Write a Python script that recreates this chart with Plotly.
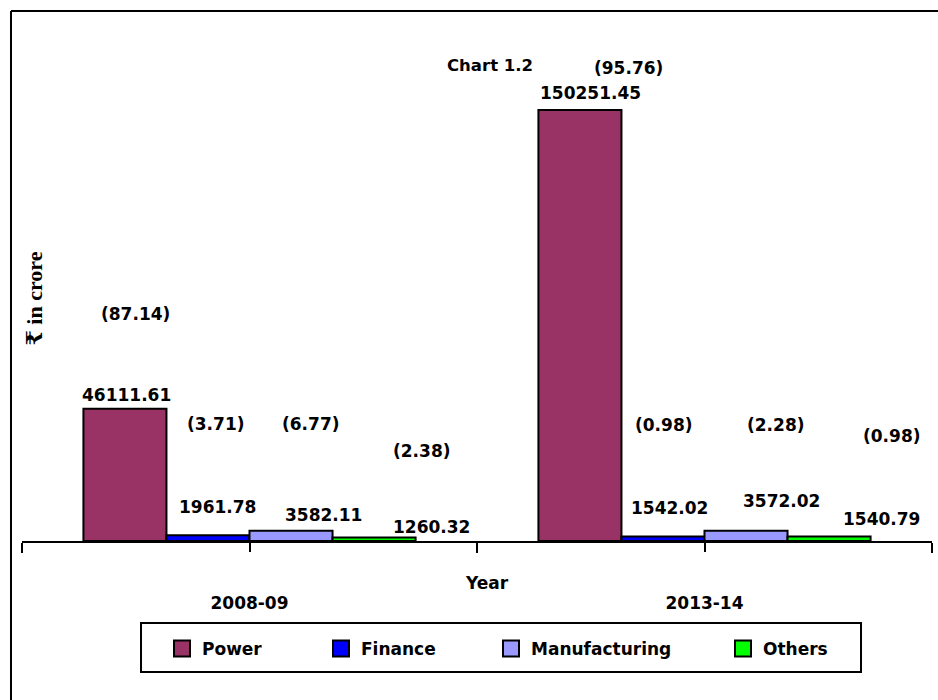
import plotly.graph_objects as go

# ---------------- data ----------------
years = ["2008-09", "2013-14"]
sectors = ["Power", "Finance", "Manufacturing", "Others"]
power = [46111.61, 150251.45]
finance = [1961.78, 1542.02]
manufacturing = [3582.11, 3572.02]
others = [1260.32, 1540.79]
power_pct = [87.14, 95.76]
finance_pct = [3.71, 0.98]
manufacturing_pct = [6.77, 2.28]
others_pct = [2.38, 0.98]

series = [power, finance, manufacturing, others]
shares = [power_pct, finance_pct, manufacturing_pct, others_pct]
colors = ["#993366", "#0000FF", "#9999FF", "#00FF00"]

# ---------------- layout geometry (pixels) ----------------
W, H = 938, 700
L, R, T, B = 22, 6, 82, 159
PW, PH = W - L - R, H - T - B
YMAX = 160000


def px_x(px):
    return (px - L) / PW


def px_y(py):
    return (H - B - py) / PH


FONT = "DejaVu Sans, Liberation Sans, Arial, sans-serif"
FS = 17

# value-label offsets: dx from category centre, dy above bar top (px)
val_dx = [[-123.5, -114.5], [-32.5, -35.5], [73.5, 76.5], [181.5, 176.5]]
val_dy = [[14, 17], [28, 29], [16, 30], [10, 18]]
# share-label centres (px)
pct_pos = [[(135, 314), (628, 68)], [(215, 424), (663, 425)],
           [(310, 424), (775, 425)], [(421, 451), (891, 436)]]
legend_text_start = [202, 361, 531, 763]

fig = go.Figure()
for i, s in enumerate(sectors):
    fig.add_trace(go.Bar(
        x=years, y=series[i], name=s, showlegend=False,
        marker=dict(color=colors[i], line=dict(color="black", width=2)),
    ))

legend_names = ["legend", "legend2", "legend3", "legend4"]
for i, s in enumerate(sectors):
    fig.add_trace(go.Scatter(
        x=[None], y=[None], name=s, mode="markers", xaxis="x2",
        marker=dict(symbol="square", size=16, color=colors[i],
                    line=dict(color="black", width=2)),
        legend=legend_names[i],
    ))

ann = []
for i in range(4):
    for j in range(2):
        ann.append(dict(
            x=years[j], y=series[i][j], xref="x", yref="y",
            xshift=val_dx[i][j], yshift=val_dy[i][j],
            text=f"{series[i][j]:.2f}", showarrow=False,
            xanchor="center", yanchor="middle",
            font=dict(family=FONT, size=FS, color="black", weight="bold"),
        ))
        px, py = pct_pos[i][j]
        ann.append(dict(
            x=px_x(px), y=px_y(py), xref="paper", yref="paper",
            text=f"({shares[i][j]:.2f})", showarrow=False,
            xanchor="center", yanchor="middle",
            font=dict(family=FONT, size=FS, color="black", weight="bold"),
        ))

ann.append(dict(x=px_x(490), y=px_y(65), xref="paper", yref="paper",
                text="Chart 1.2", showarrow=False, xanchor="center", yanchor="middle",
                font=dict(family=FONT, size=FS - 0.5, color="black", weight="bold")))
ann.append(dict(x=px_x(487), y=px_y(583), xref="paper", yref="paper",
                text="Year", showarrow=False, xanchor="center", yanchor="middle",
                font=dict(family=FONT, size=FS, color="black", weight="bold")))
ann.append(dict(x=px_x(33.5), y=px_y(299), xref="paper", yref="paper",
                text="₹ in crore", showarrow=False, textangle=-90,
                xanchor="center", yanchor="middle",
                font=dict(family="Liberation Serif, DejaVu Serif, serif", size=22,
                          color="black", weight="bold")))

shapes = [
    # outer frame (top and left edges visible)
    dict(type="line", xref="paper", yref="paper", x0=px_x(11), x1=px_x(W + 20),
         y0=px_y(11), y1=px_y(11), line=dict(color="black", width=2)),
    dict(type="line", xref="paper", yref="paper", x0=px_x(11), x1=px_x(11),
         y0=px_y(11), y1=px_y(H + 20), line=dict(color="black", width=2)),
    # legend box
    dict(type="rect", xref="paper", yref="paper", x0=px_x(141), x1=px_x(861),
         y0=px_y(623), y1=px_y(672), line=dict(color="black", width=2),
         fillcolor="rgba(0,0,0,0)"),
]

layout = dict(
    width=W, height=H,
    margin=dict(l=L, r=R, t=T, b=B, pad=0),
    paper_bgcolor="white", plot_bgcolor="white",
    font=dict(family=FONT, size=FS, color="black", weight="bold"),
    barmode="group", bargap=0.27, bargroupgap=0,
    xaxis=dict(
        type="category", categoryarray=years, range=[-0.5, 1.5],
        showline=True, linecolor="black", linewidth=2,
        ticks="outside", tickson="boundaries", ticklen=10, tickwidth=2,
        tickcolor="black", showgrid=False, zeroline=False,
        ticklabelstandoff=46,
        tickfont=dict(family=FONT, size=FS, color="black", weight="bold"),
    ),
    xaxis2=dict(
        type="category", categoryarray=years, range=[-0.5, 1.5],
        overlaying="x", anchor="y", side="bottom",
        showline=False, ticks="outside", ticklen=10, tickwidth=2,
        tickcolor="black", showticklabels=False, showgrid=False, zeroline=False,
    ),
    yaxis=dict(range=[0, YMAX], visible=False, fixedrange=True),
    annotations=ann,
    shapes=shapes,
)
for i, ln in enumerate(legend_names):
    layout[ln] = dict(
        x=px_x(legend_text_start[i] - 40), y=px_y(649),
        xanchor="left", yanchor="middle", orientation="h",
        bgcolor="rgba(0,0,0,0)", borderwidth=0,
        font=dict(family=FONT, size=FS, color="black", weight="bold"),
    )

fig.update_layout(**layout)
fig.write_html("out.html", config={"displayModeBar": False},
               post_script="document.body.style.margin='0px';document.body.style.overflow='hidden';")
